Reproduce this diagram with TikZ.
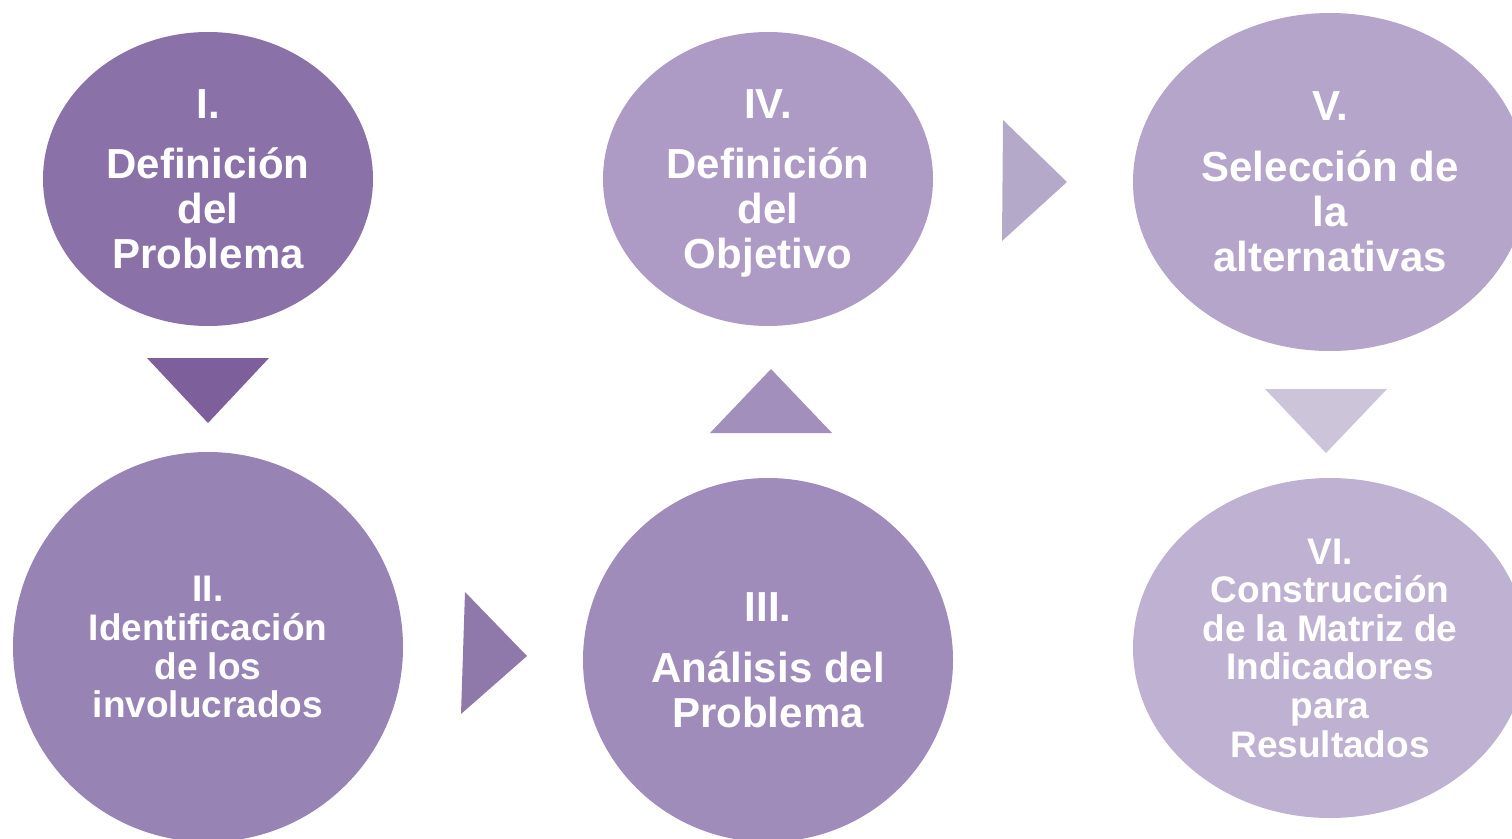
\documentclass[tikz,border=0pt]{standalone}
\usepackage{fontspec}
\setmainfont{Liberation Sans}
\usetikzlibrary{shapes.geometric}
\definecolor{cI}{HTML}{8A72A9}
\definecolor{cII}{HTML}{9883B5}
\definecolor{cIII}{HTML}{A08CBB}
\definecolor{cIV}{HTML}{AD9BC5}
\definecolor{cV}{HTML}{B5A5CA}
\definecolor{cVI}{HTML}{BFB1D2}
\definecolor{tI}{HTML}{7D5F9C}
\definecolor{tII}{HTML}{8E79AA}
\definecolor{tIII}{HTML}{A28FBC}
\definecolor{tIV}{HTML}{B5A9CA}
\definecolor{tV}{HTML}{CCC4D9}
\begin{document}
\begin{tikzpicture}[x=1pt,y=-1pt,
  stage/.style={ellipse, inner sep=0pt, text=white, align=center},
  big/.style={font=\fontsize{42}{45}\selectfont\bfseries},
  small/.style={font=\fontsize{37}{38.6}\selectfont\bfseries}]
\useasboundingbox (0,0) rectangle (1512,838);
\clip (0,0) rectangle (1512,838);
\node[stage, big, fill=cI, minimum width=330, minimum height=294] (s1) at (208,179)
  {I.\\[15pt]Definición\\del\\Problema};
\node[stage, small, fill=cII, minimum width=390, minimum height=390] (s2) at (208,647)
  {II.\\Identificación\\de los\\\raisebox{0pt}[\height][0pt]{involucrados}};
\node[stage, big, fill=cIII, minimum width=370, minimum height=364] (s3) at (768,660)
  {III.\\[16pt]Análisis del\\Problema};
\node[stage, big, fill=cIV, minimum width=330, minimum height=294] (s4) at (768,179)
  {IV.\\[15pt]Definición\\del\\\raisebox{0pt}[\height][0pt]{Objetivo}};
\node[stage, big, fill=cV, minimum width=394, minimum height=338] (s5) at (1330,182)
  {V.\\[16pt]Selección de\\la\\alternativas};
\node[stage, small, fill=cVI, minimum width=394, minimum height=340] (s6) at (1330,648)
  {VI.\\Construcción\\de la Matriz de\\Indicadores\\para\\Resultados};
% arrows
\fill[tI] (147,358) -- (269,358) -- (208,423) -- cycle;
\fill[tII] (465,592) -- (527,656) -- (461,714) -- cycle;
\fill[tIII] (771,369) -- (832,433) -- (710,433) -- cycle;
\fill[tIV] (1003,120) -- (1067,182) -- (1002,241) -- cycle;
\fill[tV] (1265,389) -- (1387,389) -- (1326,453) -- cycle;
\end{tikzpicture}
\end{document}
